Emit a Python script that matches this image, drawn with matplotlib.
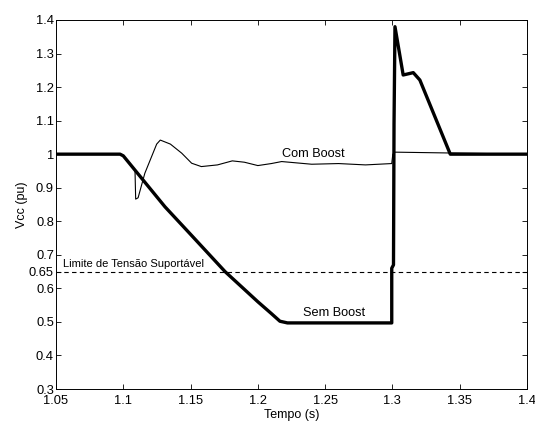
import numpy as np
import matplotlib
matplotlib.use('Agg')
import matplotlib.pyplot as plt

plt.rcParams['font.family'] = ['Liberation Sans', 'DejaVu Sans']

# curva sem boost (linha grossa)
t_sem = [1.05, 1.0976, 1.1, 1.131, 1.15, 1.1756, 1.2, 1.21, 1.2164, 1.222,
         1.2995, 1.2995, 1.3008, 1.3012, 1.3019, 1.308, 1.3155, 1.3204, 1.343, 1.4]
v_sem = [1.0, 1.0, 0.995, 0.843, 0.761, 0.65, 0.56, 0.525, 0.502, 0.497,
         0.497, 0.66, 0.67, 1.09, 1.38, 1.236, 1.243, 1.221, 1.0, 1.0]

# curva com boost (linha fina)
t_com = [1.05, 1.0976, 1.1, 1.1087, 1.1092, 1.111, 1.116, 1.1248, 1.1275, 1.135,
         1.1434, 1.1508, 1.158, 1.17, 1.181, 1.19, 1.2, 1.21, 1.2177, 1.24,
         1.26, 1.28, 1.2995, 1.3003, 1.302, 1.4]
v_com = [1.0, 1.0, 0.995, 0.952, 0.866, 0.87, 0.943, 1.03, 1.042, 1.03,
         1.003, 0.973, 0.963, 0.968, 0.98, 0.976, 0.966, 0.972, 0.978, 0.97,
         0.972, 0.968, 0.972, 1.0, 1.006, 1.0]

limite = 0.65
x_ticks = [1.05, 1.1, 1.15, 1.2, 1.25, 1.3, 1.35, 1.4]
x_labels = ['1.05', '1.1', '1.15', '1.2', '1.25', '1.3', '1.35', '1.4']
y_ticks = [0.3, 0.4, 0.5, 0.6, 0.65, 0.7, 0.8, 0.9, 1.0, 1.1, 1.2, 1.3, 1.4]
y_labels = ['0.3', '0.4', '0.5', '0.6', '0.65', '0.7', '0.8', '0.9', '1', '1.1', '1.2', '1.3', '1.4']

fig = plt.figure(figsize=(5.35, 4.25), dpi=100)
ax = fig.add_axes([0.1047, 0.0847, 0.8803, 0.8683])

ax.plot(t_com, v_com, color='black', lw=0.8)
ax.plot(t_sem, v_sem, color='black', lw=2.4)
ax.axhline(limite, color='black', lw=0.8, ls=(0, (4, 3)))

ax.text(1.055, 0.657, 'Limite de Tensão Suportável', fontsize=8, va='bottom')
ax.text(1.241, 0.983, 'Com Boost', fontsize=9.2, ha='center', va='bottom')
ax.text(1.257, 0.51, 'Sem Boost', fontsize=9.2, ha='center', va='bottom')

ax.set_xlim(1.05, 1.4)
ax.set_ylim(0.3, 1.4)
ax.set_xticks(x_ticks)
ax.set_xticklabels(x_labels)
ax.set_yticks(y_ticks)
ax.set_yticklabels(y_labels)
for lab in ax.get_yticklabels():
    if lab.get_text() == '0.65':
        lab.set_fontsize(7.3)

ax.tick_params(direction='in', top=True, right=True, length=3.5, width=0.6,
               labelsize=9.3, pad=1.5)
ax.tick_params(axis='x', pad=4.5)
for s in ax.spines.values():
    s.set_linewidth(0.7)

ax.set_xlabel('Tempo (s)', fontsize=9, labelpad=1.5)
ax.set_ylabel('Vcc (pu)', fontsize=9, labelpad=1)

fig.savefig('out.png', dpi=100)
